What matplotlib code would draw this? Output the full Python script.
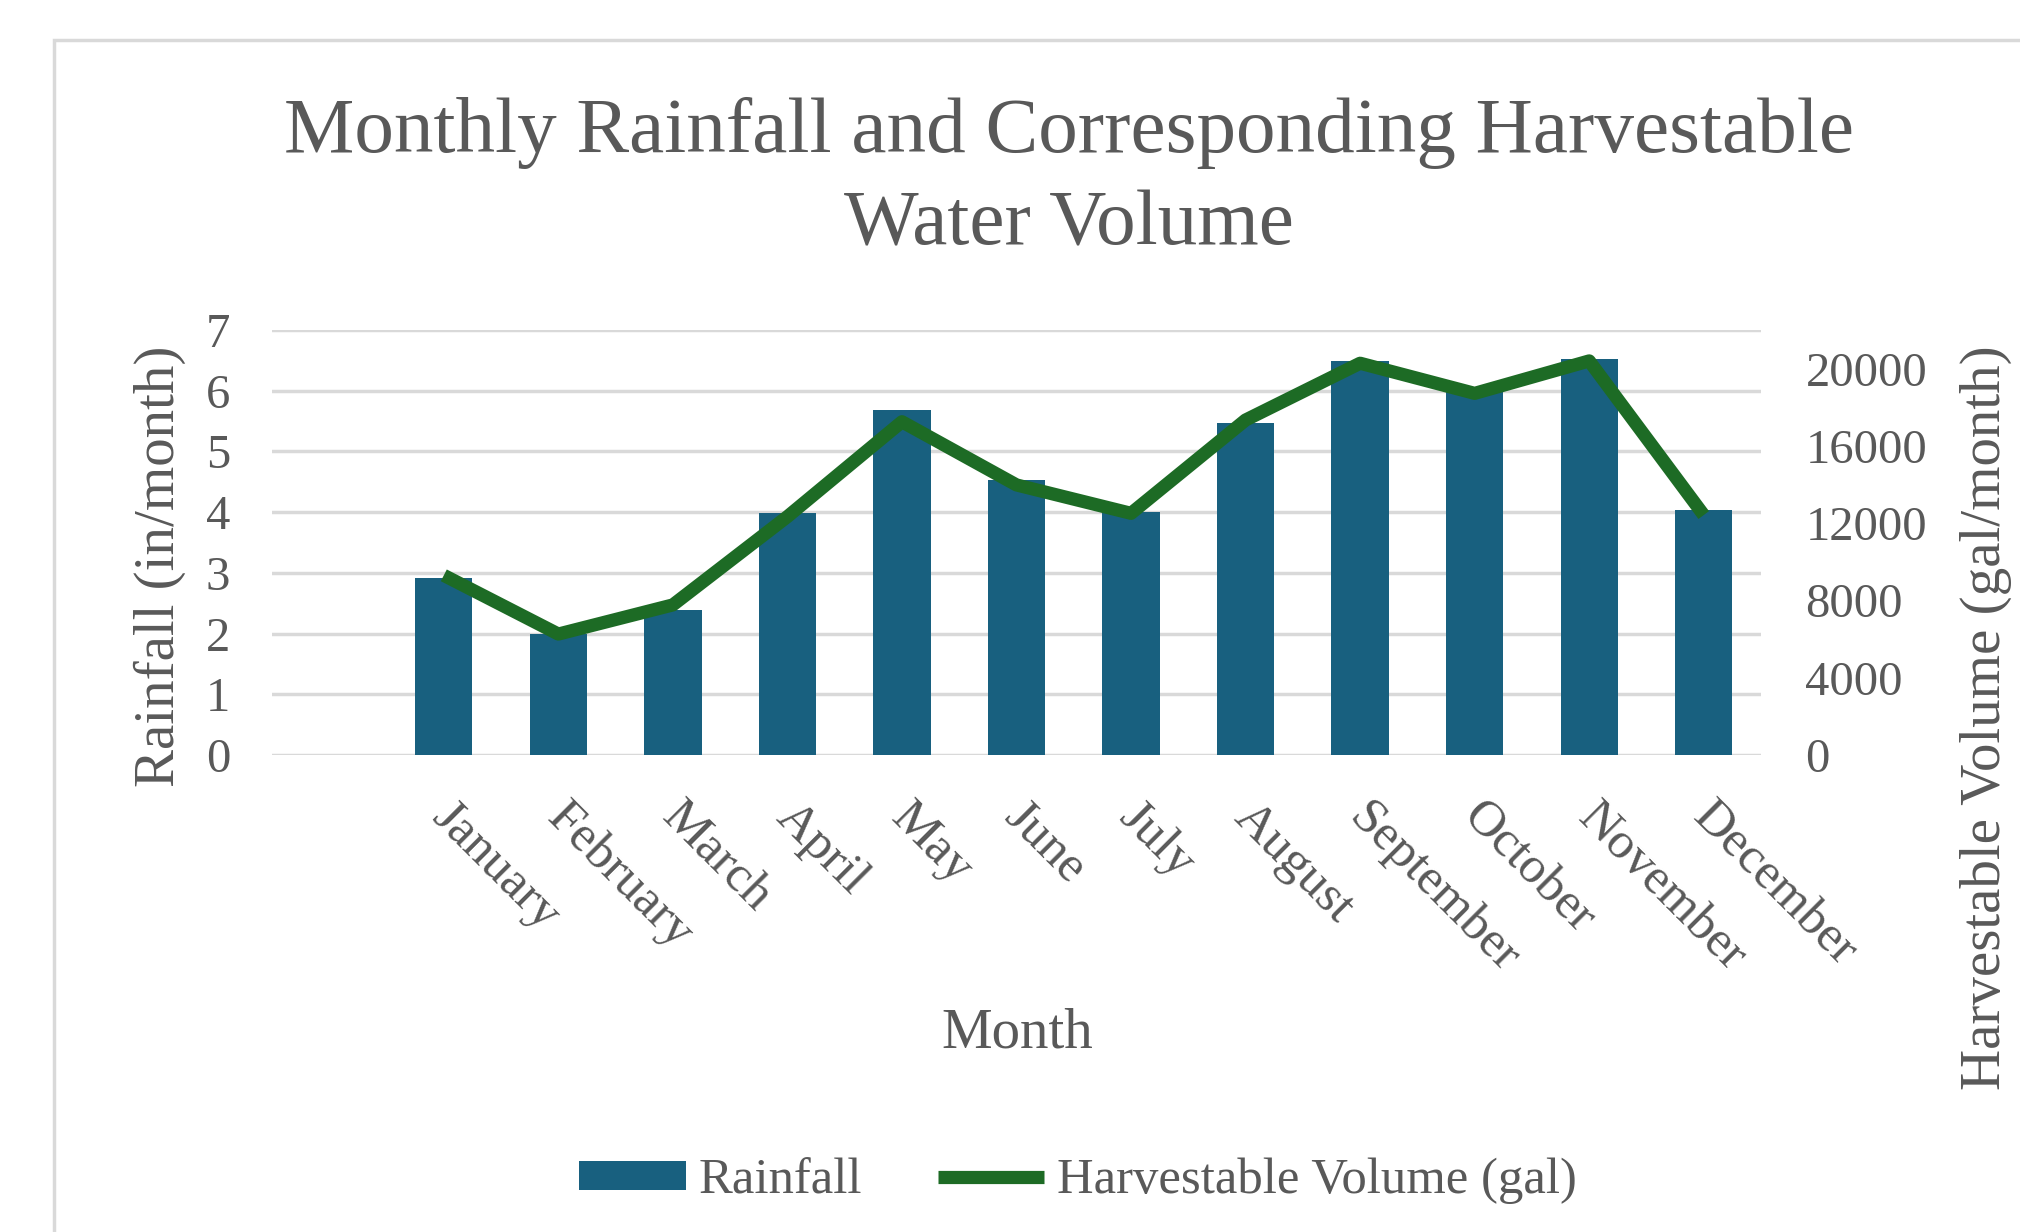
import matplotlib
matplotlib.use('Agg')
import matplotlib.pyplot as plt
from matplotlib.patches import Rectangle
from matplotlib.transforms import ScaledTranslation

plt.rcParams['font.family'] = ['Liberation Serif', 'DejaVu Serif']

# === 数据 ===
months = ['January', 'February', 'March', 'April', 'May', 'June',
          'July', 'August', 'September', 'October', 'November', 'December']
rainfall = [2.92, 1.99, 2.39, 3.99, 5.69, 4.53, 4.00, 5.46, 6.49, 6.00, 6.53, 4.04]
volume = [9300, 6260, 7770, 12340, 17250, 13980, 12510, 17340, 20280, 18720, 20400, 12420]
left_ticks = [0, 1, 2, 3, 4, 5, 6, 7]
right_ticks = [0, 4000, 8000, 12000, 16000, 20000]

TXT = '#595959'
BAR = '#18607f'
LINE = '#1d6b25'
GRID = '#d9d9d9'

W, H = 2020, 1232
fig = plt.figure(figsize=(W / 100, H / 100), dpi=100)

# chart border
fig.add_artist(Rectangle((54 / W, -0.1), 1.2, 1.1 - 40 / H, transform=fig.transFigure,
                         fill=False, edgecolor=GRID, linewidth=2.5))

ax = fig.add_axes([272 / W, 1 - 755 / H, (1761 - 272) / W, (755 - 330) / H])
x = list(range(len(months)))
bars = ax.bar(x, rainfall, width=0.5, color=BAR, label='Rainfall', zorder=2)
ax.set_xlim(-1.5, 11.5)
ax.set_ylim(0, 7)
ax.set_yticks(left_ticks)
ax.yaxis.grid(True, color=GRID, linewidth=2.5)
ax.set_axisbelow(True)
for s in ax.spines.values():
    s.set_visible(False)
ax.tick_params(axis='y', length=0, pad=30, labelsize=35, labelcolor=TXT)
ax.tick_params(axis='x', length=0, pad=28, labelsize=37, labelcolor=TXT)
ax.set_xticks(x)
ax.set_xticklabels(months, rotation=-45, ha='left', va='top', rotation_mode='anchor')
off = ScaledTranslation(12 / 100, 0, fig.dpi_scale_trans)
for lab in ax.get_xticklabels():
    lab.set_transform(lab.get_transform() + off)

ax2 = ax.twinx()
line, = ax2.plot(x, volume, color=LINE, linewidth=9.5, solid_joinstyle='round',
                 solid_capstyle='butt', label='Harvestable Volume (gal)')
ax2.set_ylim(0, 22000)
ax2.set_yticks(right_ticks)
for s in ax2.spines.values():
    s.set_visible(False)
ax2.tick_params(axis='y', length=0, pad=32, labelsize=35, labelcolor=TXT)

# titles and axis labels
fig.text(1069 / W, 1 - 152 / H, 'Monthly Rainfall and Corresponding Harvestable',
         ha='center', va='baseline', fontsize=57, color=TXT)
fig.text(1069 / W, 1 - 245 / H, 'Water Volume',
         ha='center', va='baseline', fontsize=57, color=TXT)
fig.text(160 / W, 1 - 566 / H, 'Rainfall (in/month)', rotation=90,
         ha='center', va='center', fontsize=41, color=TXT)
fig.text(1986 / W, 1 - 718 / H, 'Harvestable Volume (gal/month)', rotation=90,
         ha='center', va='center', fontsize=41, color=TXT)
fig.text(1017 / W, 1 - 1048 / H, 'Month', ha='center', va='baseline',
         fontsize=41, color=TXT)

leg = fig.legend(handles=[bars, line], loc='center', bbox_to_anchor=(1078 / W, 1 - 1181 / H),
                 ncol=2, frameon=False, fontsize=36.5, handlelength=2.1, handleheight=0.5,
                 handletextpad=0.25, columnspacing=1.5, labelcolor=TXT)

fig.savefig('out.png', dpi=100, facecolor='white')
